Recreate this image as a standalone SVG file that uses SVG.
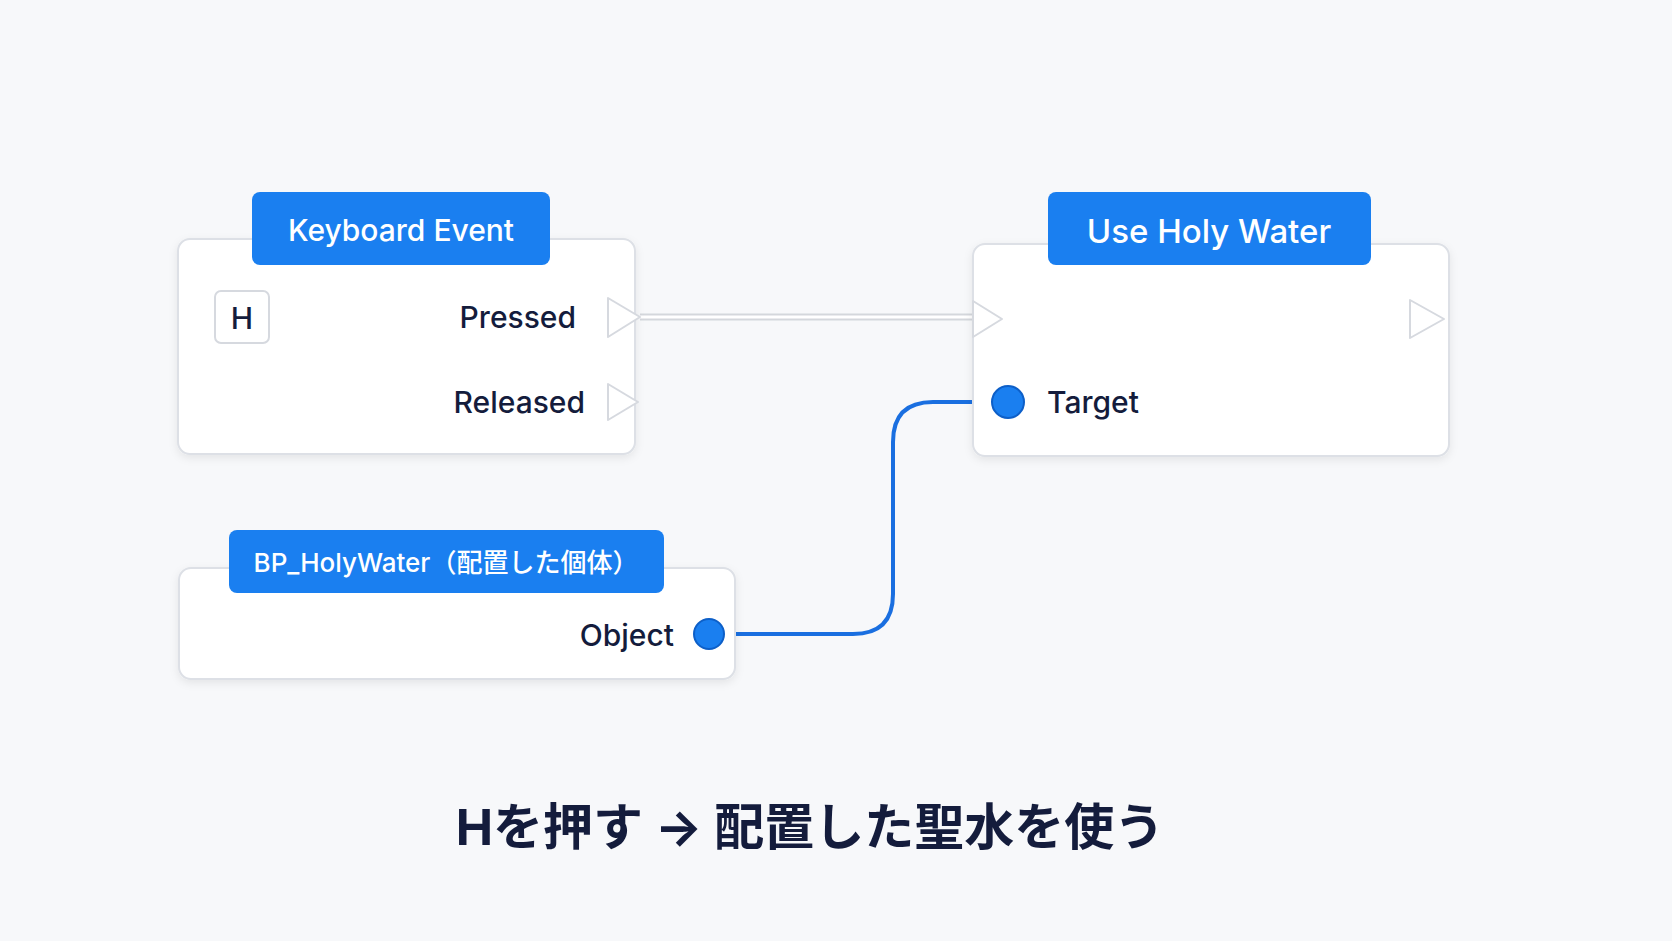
<svg xmlns="http://www.w3.org/2000/svg" width="1672" height="941" viewBox="0 0 1672 941">
<defs>
<style>
.body{fill:#fff;stroke:#dde0e6;stroke-width:2}
.hdr{fill:#1a7ff0}
.ht{font-family:Inter,"Noto Sans","Noto Sans CJK JP",sans-serif;fill:#fff;font-weight:500}
.lbl{font-family:Inter,"Noto Sans",sans-serif;font-size:30px;fill:#141c3c;font-weight:500}
.exec{fill:#fff;stroke:#d6d9df;stroke-width:2;stroke-linejoin:round}
.pin{fill:#1a7ff0;stroke:#0d5fc8;stroke-width:2}
</style>
<filter id="sh" x="-10%" y="-10%" width="120%" height="130%"><feDropShadow dx="0" dy="3" stdDeviation="4" flood-color="#000" flood-opacity="0.08"/></filter>
</defs>
<rect width="1672" height="941" fill="#f7f8fa"/>
<g id="connectors" fill="none">
<path d="M640 317 H973" stroke="#d4d7dc" stroke-width="7"/>
<path d="M640 317 H973" stroke="#ffffff" stroke-width="3"/>
<path d="M724 634 H853 Q893 634 893 594 V442 Q893 402 933 402 H993" stroke="#1a6fe0" stroke-width="4"/>
</g>
<g id="keyboard-event">
<rect class="body" x="178" y="239" width="457" height="215" rx="12" filter="url(#sh)"/>
<rect class="hdr" x="252" y="192" width="298" height="73" rx="8"/>
<text class="ht" x="401" y="241" font-size="30" text-anchor="middle">Keyboard Event</text>
<rect x="215" y="291" width="54" height="52" rx="6" fill="#fff" stroke="#d6d9df" stroke-width="2"/>
<text class="lbl" x="242" y="329" text-anchor="middle" font-weight="700">H</text>
<text class="lbl" x="576" y="328" text-anchor="end">Pressed</text>
<text class="lbl" x="585" y="413" text-anchor="end">Released</text>
<path class="exec" d="M608 298 L640 317 L608 337 Z"/>
<path class="exec" d="M608 384 L638 402 L608 420 Z"/>
</g>
<g id="use-holy-water">
<rect class="body" x="973" y="244" width="476" height="212" rx="12" filter="url(#sh)"/>
<rect class="hdr" x="1048" y="192" width="323" height="73" rx="8"/>
<text class="ht" x="1209" y="243" font-size="33" text-anchor="middle">Use Holy Water</text>
<path class="exec" d="M973 301 L1002 319 L973 337 Z"/>
<path class="exec" d="M1410 300 L1444 319 L1410 338 Z"/>
<circle class="pin" cx="1008" cy="402" r="16"/>
<text class="lbl" x="1047" y="413" font-size="33">Target</text>
</g>
<g id="bp-holywater">
<rect class="body" x="179" y="568" width="556" height="111" rx="12" filter="url(#sh)"/>
<rect class="hdr" x="229" y="530" width="435" height="63" rx="8"/>
<text class="ht" x="446" y="572" font-size="26" text-anchor="middle">BP_HolyWater（配置した個体）</text>
<text class="lbl" x="674" y="646" text-anchor="end">Object</text>
<circle class="pin" cx="709" cy="634" r="15"/>
</g>
<text x="810" y="845" text-anchor="middle" font-family="Inter,'Noto Sans CJK JP',sans-serif" font-size="50" font-weight="700" fill="#141c3c">Hを押す → 配置した聖水を使う</text>
</svg>
